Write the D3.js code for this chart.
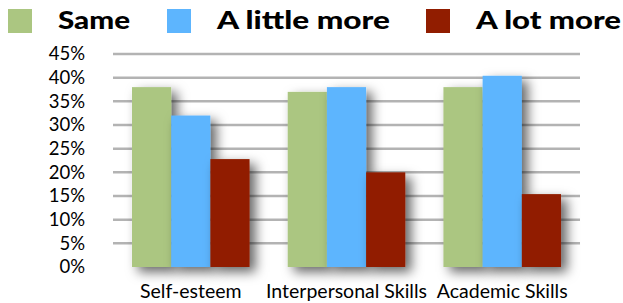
<!DOCTYPE html>
<html>
<head>
<meta charset="utf-8">
<script src="https://cdnjs.cloudflare.com/ajax/libs/d3/7.8.5/d3.min.js"></script>
<style>
  body { margin: 0; background: #fff; }
</style>
</head>
<body>
<script>
// chart data
var categories = ['Self-esteem', 'Interpersonal Skills', 'Academic Skills'];
var seriesNames = ['Same', 'A little more', 'A lot more'];
var same = [38, 37, 38];
var littleMore = [32, 38, 40.4];
var lotMore = [22.8, 20, 15.4];
var yTicks = [0, 5, 10, 15, 20, 25, 30, 35, 40, 45];

var colors = ['#abc681', '#5db5fe', '#911d00'];
var seriesValues = [same, littleMore, lotMore];

var svg = d3.select('body')
    .append('svg')
    .attr('width', 623)
    .attr('height', 303);

// drop shadow like the keynote bars
var defs = svg.append('defs');
var shadow = defs.append('filter')
    .attr('id', 'shadow')
    .attr('x', '-30%').attr('y', '-30%')
    .attr('width', '180%').attr('height', '160%');
shadow.append('feDropShadow')
    .attr('dx', 6).attr('dy', 5)
    .attr('stdDeviation', 6)
    .attr('flood-color', '#000')
    .attr('flood-opacity', 0.6);

var lineShadow = defs.append('filter')
    .attr('id', 'lineshadow')
    .attr('x', '-10%').attr('y', '-300%')
    .attr('width', '120%').attr('height', '700%');
lineShadow.append('feDropShadow')
    .attr('dx', 3).attr('dy', 4)
    .attr('stdDeviation', 4)
    .attr('flood-color', '#000')
    .attr('flood-opacity', 0.45);

//scales
var plotLeft = 113, plotRight = 580, plotTop = 54, plotBottom = 267;
var yscale = d3.scaleLinear().domain([0, 45]).range([plotBottom, plotTop]);
var xscale = d3.scaleBand().domain(categories).range([plotLeft, plotRight]).paddingInner(0.245).paddingOuter(0.122);
var xsub = d3.scaleBand().domain(seriesNames).range([0, xscale.bandwidth()]);

// gridlines
svg.append('g')
    .selectAll('line')
    .data(yTicks.filter(function (d) { return d > 0; }))
    .enter().append('line')
    .attr('x1', plotLeft)
    .attr('x2', plotRight)
    .attr('y1', function (d) { return yscale(d); })
    .attr('y2', function (d) { return yscale(d); })
    .attr('stroke', '#b3b3b3')
    .attr('stroke-width', 2.5);

// y axis labels
var yaxis = d3.axisLeft(yscale)
    .tickValues(yTicks)
    .tickSize(0)
    .tickPadding(0)
    .tickFormat(function (d) { return d + '%'; });
var yg = svg.append('g')
    .attr('transform', 'translate(85, 0)')
    .call(yaxis);
yg.select('.domain').remove();
yg.selectAll('text')
    .attr('font-family', 'Lato, sans-serif')
    .attr('font-size', '18.5px')
    .attr('fill', '#000');

// bars
var groups = svg.selectAll('.cat')
    .data(categories)
    .enter().append('g')
    .attr('class', 'cat')
    .attr('transform', function (d) { return 'translate(' + xscale(d) + ',0)'; });

seriesNames.forEach(function (s, si) {
    groups.append('rect')
        .attr('x', xsub(s))
        .attr('y', function (d, i) { return yscale(seriesValues[si][i]); })
        .attr('width', xsub.bandwidth())
        .attr('height', function (d, i) { return plotBottom - yscale(seriesValues[si][i]); })
        .attr('fill', colors[si])
        .attr('filter', 'url(#shadow)');
});

// baseline
svg.append('line')
    .attr('x1', plotLeft)
    .attr('x2', plotRight)
    .attr('y1', plotBottom + 0.5)
    .attr('y2', plotBottom + 0.5)
    .attr('stroke', '#000')
    .attr('stroke-width', 3)
    .attr('filter', 'url(#lineshadow)');

// x axis labels
var xaxis = d3.axisBottom(xscale).tickSize(0).tickPadding(0);
var xg = svg.append('g')
    .attr('transform', 'translate(0, 284)')
    .call(xaxis);
xg.select('.domain').remove();
xg.selectAll('text')
    .attr('font-family', 'Lato, sans-serif')
    .attr('font-size', '19.5px')
    .attr('fill', '#000');

// legend
var legendX = [8, 167, 426];
var legendW = [72, 173, 145];
var legend = svg.selectAll('.legend')
    .data(seriesNames)
    .enter().append('g')
    .attr('class', 'legend')
    .attr('transform', function (d, i) { return 'translate(' + legendX[i] + ',9)'; });
legend.append('rect')
    .attr('width', 24)
    .attr('height', 24)
    .attr('fill', function (d, i) { return colors[i]; });
legend.append('text')
    .attr('x', 50)
    .attr('y', 20)
    .attr('font-family', 'Lato, sans-serif')
    .attr('font-weight', 900)
    .attr('font-size', '25px')
    .attr('textLength', function (d, i) { return legendW[i]; })
    .attr('lengthAdjust', 'spacingAndGlyphs')
    .text(function (d) { return d; });
</script>
</body>
</html>
